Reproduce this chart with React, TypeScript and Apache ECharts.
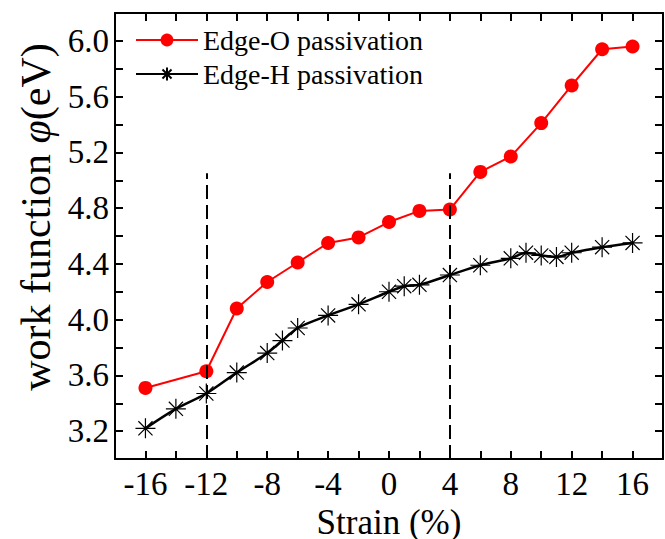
import React, { useEffect, useRef } from "react";
import * as echarts from "echarts";

const strainO = [-16, -12, -10, -8, -6, -4, -2, 0, 2, 4, 6, 8, 10, 12, 14, 16];
const phiO = [3.51, 3.63, 4.08, 4.27, 4.41, 4.55, 4.59, 4.70, 4.78, 4.79, 5.06, 5.17, 5.41, 5.68, 5.94, 5.96];

const strainH = [-16, -14, -12, -10, -8, -7, -6, -4, -2, 0, 1, 2, 4, 6, 8, 9, 10, 11, 12, 14, 16];
const phiH = [3.22, 3.36, 3.47, 3.62, 3.76, 3.85, 3.94, 4.03, 4.11, 4.20, 4.24, 4.25, 4.32, 4.39, 4.44, 4.48, 4.46, 4.45, 4.48, 4.52, 4.55];

const dashedX = [-12, 4];
const dashedTop = 5.05;

const xTickLabels = ["-16", "-12", "-8", "-4", "0", "4", "8", "12", "16"];
const yTickLabels = ["3.2", "3.6", "4.0", "4.4", "4.8", "5.2", "5.6", "6.0"];

const seriesNames = ["Edge-O passivation", "Edge-H passivation"];

const FONT = "Liberation Serif";
const STAR = "path://M0,-1L0,1M-1,0L1,0M-0.707,-0.707L0.707,0.707M-0.707,0.707L0.707,-0.707";

export default function App() {
  const ref = useRef<HTMLDivElement>(null);
  useEffect(() => {
    if (!ref.current) return;
    document.body.style.margin = "0";
    const chart = echarts.init(ref.current, undefined, { renderer: "svg" });
    const xFmt = (v: number) => {
      const s = String(Math.round(v));
      return xTickLabels.includes(s) ? s : "";
    };
    const yFmt = (v: number) => {
      const s = (Math.round(v * 10) / 10).toFixed(1);
      return yTickLabels.includes(s) ? s : "";
    };
    const axisLine = { show: true, onZero: false, lineStyle: { color: "#000", width: 2 } };
    const axisTick = { show: true, inside: true, length: 8, lineStyle: { color: "#000", width: 2 } };
    chart.setOption({
      animation: false,
      backgroundColor: "#fff",
      grid: { left: 115, right: 2, top: 13, bottom: 80, containLabel: false, outerBoundsMode: "none" },
      legend: {
        orient: "vertical",
        left: 130,
        top: 21,
        itemWidth: 62,
        itemHeight: 16,
        itemGap: 6,
        textStyle: { fontFamily: FONT, fontSize: 28, color: "#000", lineHeight: 28 },
        data: seriesNames,
      },
      xAxis: [
        {
          type: "value",
          min: -18,
          max: 18,
          interval: 2,
          position: "bottom",
          axisLine,
          axisTick,
          splitLine: { show: false },
          axisLabel: { formatter: xFmt, fontFamily: FONT, fontSize: 33, color: "#000", margin: 8 },
          name: "Strain (%)",
          nameLocation: "middle",
          nameGap: 35,
          nameTextStyle: { fontFamily: FONT, fontSize: 35, color: "#000", lineHeight: 35 },
        },
        {
          type: "value",
          min: -18,
          max: 18,
          interval: 2,
          position: "top",
          axisLine,
          axisTick,
          splitLine: { show: false },
          axisLabel: { show: false },
        },
      ],
      yAxis: [
        {
          type: "value",
          min: 3.0,
          max: 6.2,
          interval: 0.2,
          position: "left",
          axisLine,
          axisTick,
          splitLine: { show: false },
          axisLabel: { formatter: yFmt, fontFamily: FONT, fontSize: 33, color: "#000", margin: 6 },
          name: "work function {i|φ}(eV)",
          nameLocation: "middle",
          nameRotate: 90,
          nameGap: 55,
          nameTextStyle: {
            fontFamily: FONT,
            fontSize: 42,
            color: "#000",
            padding: [0, 0, 0, 38],
            rich: { i: { fontFamily: FONT, fontSize: 42, fontStyle: "italic", color: "#000" } },
          },
        },
        {
          type: "value",
          min: 3.0,
          max: 6.2,
          interval: 0.2,
          position: "right",
          axisLine,
          axisTick,
          splitLine: { show: false },
          axisLabel: { show: false },
        },
      ],
      series: [
        {
          name: seriesNames[0],
          type: "line",
          data: strainO.map((x, i) => [x, phiO[i]]),
          symbol: "circle",
          symbolSize: 14,
          lineStyle: { color: "#ff0000", width: 2 },
          itemStyle: { color: "#ff0000" },
          z: 3,
        },
        {
          name: seriesNames[1],
          type: "line",
          data: strainH.map((x, i) => [x, phiH[i]]),
          smooth: 0.3,
          symbol: STAR,
          symbolSize: 20,
          lineStyle: { color: "#000", width: 2.5 },
          itemStyle: { color: "rgba(0,0,0,0)", borderColor: "#000", borderWidth: 1.2 },
          z: 4,
          markLine: {
            silent: true,
            symbol: ["none", "none"],
            label: { show: false },
            lineStyle: { color: "#000", width: 2, type: [14, 6] },
            data: dashedX.map((x) => [
              { coord: [x, 3.0] },
              { coord: [x, dashedTop] },
            ]),
          },
        },
      ],
    });
    return () => chart.dispose();
  }, []);
  return <div ref={ref} style={{ width: 665, height: 539 }} />;
}
